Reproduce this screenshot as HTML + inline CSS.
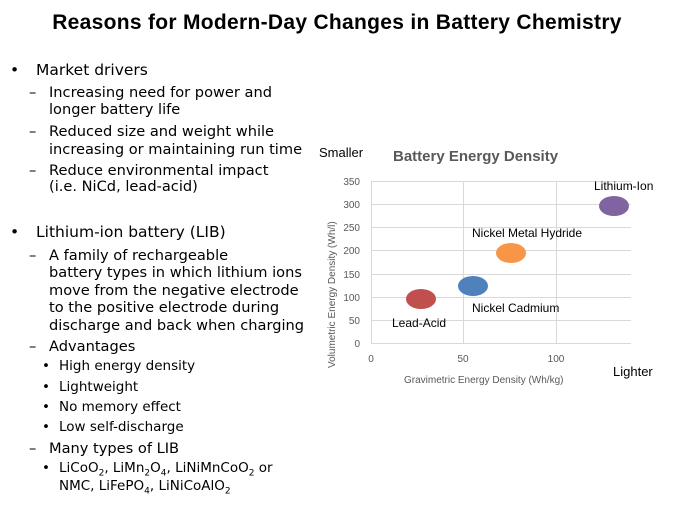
<!DOCTYPE html>
<html><head><meta charset="utf-8"><style>
body{margin:0;width:674px;height:506px;background:#fff;position:relative;overflow:hidden;font-family:"DejaVu Sans","Liberation Sans",sans-serif;color:#000}
.t{position:absolute;white-space:nowrap;line-height:1}
.m{font-size:15.5px}
.s{font-size:14.6px}
.ss{font-size:13.5px}
</style></head><body>
<div class="t" style="left:0;width:674px;text-align:center;top:11px;font:bold 21px 'Liberation Sans',sans-serif;letter-spacing:0.3px">Reasons for Modern-Day Changes in Battery Chemistry</div>

<div class="t m" style="left:10px;top:63px">•</div><div class="t m" style="left:36px;top:63px">Market drivers</div>
<div class="t s" style="left:29px;top:86px">–</div><div class="t s" style="left:49px;top:86px">Increasing need for power and</div>
<div class="t s" style="left:49px;top:103px">longer battery life</div>
<div class="t s" style="left:29px;top:125px">–</div><div class="t s" style="left:49px;top:125px">Reduced size and weight while</div>
<div class="t s" style="left:49px;top:143px">increasing or maintaining run time</div>
<div class="t s" style="left:29px;top:164px">–</div><div class="t s" style="left:49px;top:164px">Reduce environmental impact</div>
<div class="t s" style="left:49px;top:180px">(i.e. NiCd, lead-acid)</div>

<div class="t m" style="left:10px;top:225px">•</div><div class="t m" style="left:36px;top:225px">Lithium-ion battery (LIB)</div>
<div class="t s" style="left:29px;top:249px">–</div><div class="t s" style="left:49px;top:249px">A family of rechargeable</div>
<div class="t s" style="left:49px;top:266px">battery types in which lithium ions</div>
<div class="t s" style="left:49px;top:284px">move from the negative electrode</div>
<div class="t s" style="left:49px;top:301px">to the positive electrode during</div>
<div class="t s" style="left:49px;top:319px">discharge and back when charging</div>
<div class="t s" style="left:29px;top:340px">–</div><div class="t s" style="left:49px;top:340px">Advantages</div>
<div class="t ss" style="left:42px;top:360px">•</div><div class="t ss" style="left:59px;top:360px">High energy density</div>
<div class="t ss" style="left:42px;top:381px">•</div><div class="t ss" style="left:59px;top:381px">Lightweight</div>
<div class="t ss" style="left:42px;top:401px">•</div><div class="t ss" style="left:59px;top:401px">No memory effect</div>
<div class="t ss" style="left:42px;top:421px">•</div><div class="t ss" style="left:59px;top:421px">Low self-discharge</div>
<div class="t s" style="left:29px;top:442px">–</div><div class="t s" style="left:49px;top:442px">Many types of LIB</div>
<div class="t ss" style="left:42px;top:462px">•</div><div class="t ss" style="left:59px;top:462px">LiCoO<sub style="font-size:9px">2</sub>, LiMn<sub style="font-size:9px">2</sub>O<sub style="font-size:9px">4</sub>, LiNiMnCoO<sub style="font-size:9px">2</sub> or</div>
<div class="t ss" style="left:59px;top:480px">NMC, LiFePO<sub style="font-size:9px">4</sub>, LiNiCoAlO<sub style="font-size:9px">2</sub></div>

<svg style="position:absolute;left:0;top:0" width="674" height="506" font-family="Liberation Sans, sans-serif">
<text x="319" y="157" font-size="13">Smaller</text>
<text x="393" y="161" font-size="15" font-weight="bold" fill="#595959">Battery Energy Density</text>
<g stroke="#d9d9d9" stroke-width="1">
<line x1="371" y1="181.5" x2="631" y2="181.5"/><line x1="371" y1="204.5" x2="631" y2="204.5"/>
<line x1="371" y1="227.5" x2="631" y2="227.5"/><line x1="371" y1="250.5" x2="631" y2="250.5"/>
<line x1="371" y1="274.5" x2="631" y2="274.5"/><line x1="371" y1="297.5" x2="631" y2="297.5"/>
<line x1="371" y1="320.5" x2="631" y2="320.5"/><line x1="371" y1="343.5" x2="631" y2="343.5"/>
<line x1="463.5" y1="181" x2="463.5" y2="343"/><line x1="556.5" y1="181" x2="556.5" y2="343"/>
<line x1="371.5" y1="181" x2="371.5" y2="343"/>
</g>
<g font-size="10" fill="#595959" text-anchor="end">
<text x="360" y="185">350</text><text x="360" y="208">300</text><text x="360" y="231">250</text>
<text x="360" y="254">200</text><text x="360" y="278">150</text><text x="360" y="301">100</text>
<text x="360" y="324">50</text><text x="360" y="347">0</text>
</g>
<g font-size="10" fill="#595959" text-anchor="middle">
<text x="371" y="362">0</text><text x="463" y="362">50</text><text x="556" y="362">100</text>
</g>
<text x="404" y="383" font-size="10" fill="#595959">Gravimetric Energy Density (Wh/kg)</text>
<text transform="translate(335,368) rotate(-90)" font-size="10" fill="#595959">Volumetric Energy Density (Wh/l)</text>
<text x="613" y="376" font-size="13">Lighter</text>
<ellipse cx="421" cy="299" rx="15" ry="10" fill="#c0504d"/>
<ellipse cx="473" cy="286" rx="15" ry="10" fill="#4f81bd"/>
<ellipse cx="511" cy="253" rx="15" ry="10" fill="#f79646"/>
<ellipse cx="614" cy="206" rx="15" ry="10" fill="#8064a2"/>
<g font-size="12">
<text x="392" y="327">Lead-Acid</text>
<text x="472" y="312">Nickel Cadmium</text>
<text x="472" y="237">Nickel Metal Hydride</text>
<text x="594" y="190">Lithium-Ion</text>
</g>
</svg>
</body></html>
